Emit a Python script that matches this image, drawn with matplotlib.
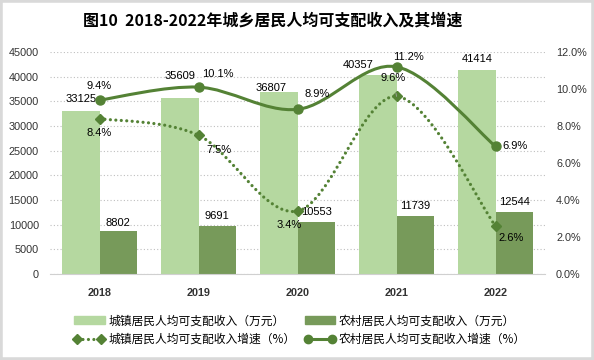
import matplotlib
matplotlib.use("Agg")
import matplotlib.pyplot as plt
import numpy as np
from matplotlib.path import Path
from matplotlib.patches import PathPatch, Patch, Rectangle
from matplotlib.lines import Line2D

plt.rcParams['font.family'] = ['Liberation Sans', 'Noto Sans CJK SC']

years = ['2018', '2019', '2020', '2021', '2022']
urban_income = [33125, 35609, 36807, 40357, 41414]
rural_income = [8802, 9691, 10553, 11739, 12544]
urban_growth = [8.4, 7.5, 3.4, 9.6, 2.6]
rural_growth = [9.4, 10.1, 8.9, 11.2, 6.9]

c_light = '#B5D8A0'
c_dark = '#779A5A'
c_line = '#548235'
cjk = ['Noto Sans CJK SC', 'DejaVu Sans']

fig = plt.figure(figsize=(5.94, 3.6), dpi=100)
fig.patches.append(Rectangle((0, 0), 1, 1, transform=fig.transFigure, fill=False,
                             edgecolor='#D9D9D9', linewidth=4, zorder=10))
ax = fig.add_axes([50/594, 86/360, 495/594, 222/360])
ax2 = ax.twinx()

x = np.arange(len(years))
w = 0.38
ax.bar(x - w/2, urban_income, w, color=c_light, zorder=2)
ax.bar(x + w/2, rural_income, w, color=c_dark, zorder=2)

ax.set_xlim(-0.5, 4.5)
ax.set_ylim(0, 45000)
ax.set_yticks(np.arange(0, 45001, 5000))
ax.yaxis.grid(True, linestyle=(0, (1, 2)), color='#BFBFBF', linewidth=0.8)
ax.set_axisbelow(True)
for s in ['top', 'right', 'left']:
    ax.spines[s].set_visible(False)
ax.spines['bottom'].set_color('#D0D0D0')
ax.tick_params(axis='both', length=0, labelsize=7.8, colors='#333333')
ax.set_xticks(x)
ax.set_xticklabels(years, fontweight='bold')
ax.tick_params(axis='x', pad=10)
ax.tick_params(axis='y', pad=8)

ax2.set_ylim(0, 12)
ax2.set_yticks(np.arange(0, 12.1, 2))
ax2.set_yticklabels([f'{v:.1f}%' for v in np.arange(0, 12.1, 2)])
ax2.tick_params(axis='y', length=0, labelsize=7.8, colors='#333333', pad=8)
for s in ['top', 'right', 'left', 'bottom']:
    ax2.spines[s].set_visible(False)


def smooth_path(xs, ys):
    pts = np.column_stack([xs, ys]).astype(float)
    n = len(pts)
    verts = [pts[0]]
    codes = [Path.MOVETO]
    for i in range(n - 1):
        p0 = pts[i - 1] if i > 0 else pts[i]
        p1 = pts[i]
        p2 = pts[i + 1]
        p3 = pts[i + 2] if i + 2 < n else pts[i + 1]
        c1 = p1 + (p2 - p0) / 6
        c2 = p2 - (p3 - p1) / 6
        verts += [c1, c2, p2]
        codes += [Path.CURVE4] * 3
    return Path(verts, codes)


dotted = (0, (0.01, 1.7))
dot_patch = PathPatch(smooth_path(x, urban_growth), fill=False, edgecolor=c_line,
                      linewidth=2.3, linestyle=dotted, zorder=3)
dot_patch.set_capstyle('round')
ax2.add_patch(dot_patch)
ax2.add_patch(PathPatch(smooth_path(x, rural_growth), fill=False, edgecolor=c_line,
                        linewidth=2.2, zorder=3))
ax2.plot(x, urban_growth, linestyle='none', marker='D', markersize=5.5, color=c_line, zorder=4)
ax2.plot(x, rural_growth, linestyle='none', marker='o', markersize=6.5, color=c_line, zorder=4)

fs = 8
urban_off = [(0, 12), (0, 22), (-8, 4), (-20, 10), (0, 11)]
rural_off = [(0, 8), (0, 10), (0, 10), (0, 10), (0, 10)]
for i in range(5):
    ax.annotate(str(urban_income[i]), (x[i] - w/2, urban_income[i]), xytext=urban_off[i],
                textcoords='offset pixels', ha='center', va='center', fontsize=fs, color='black')
    ax.annotate(str(rural_income[i]), (x[i] + w/2, rural_income[i]), xytext=rural_off[i],
                textcoords='offset pixels', ha='center', va='center', fontsize=fs, color='black')

rg_off = [(0, 14), (19, 13), (20, 15), (12, 10), (19, 0)]
ug_off = [(0, -14), (20, -15), (-8, -14), (-3, 18), (16, -12)]
for i in range(5):
    ax2.annotate(f'{rural_growth[i]:.1f}%', (x[i], rural_growth[i]), xytext=rg_off[i],
                 textcoords='offset pixels', ha='center', va='center', fontsize=fs,
                 color='black', zorder=6)
    kw = {}
    if i == 3:
        kw = dict(arrowprops=dict(arrowstyle='-', color='#A6A6A6', lw=0.6,
                                  shrinkA=5, shrinkB=3))
    ax2.annotate(f'{urban_growth[i]:.1f}%', (x[i], urban_growth[i]), xytext=ug_off[i],
                 textcoords='offset pixels', ha='center', va='center', fontsize=fs,
                 color='black', zorder=6, **kw)

fig.text(273/594, 1 - 21/360, '图10  2018-2022年城乡居民人均可支配收入及其增速',
         ha='center', va='center', fontsize=11.5, fontweight='bold', family=cjk)

handles = [Patch(color=c_light), Patch(color=c_dark),
           Line2D([], [], color=c_line, linestyle=dotted, linewidth=2.3, marker='D',
                  markersize=5, dash_capstyle='round'),
           Line2D([], [], color=c_line, linewidth=2.2, marker='o', markersize=6)]
labels = ['城镇居民人均可支配收入（万元）', '农村居民人均可支配收入（万元）',
          '城镇居民人均可支配收入增速（%）', '农村居民人均可支配收入增速（%）']
order = [0, 2, 1, 3]
fig.legend([handles[i] for i in order], [labels[i] for i in order],
           loc='center', bbox_to_anchor=(300/594, 1 - 330/360), ncol=2, frameon=False,
           prop={'family': cjk, 'size': 8.5}, handlelength=2.6, handleheight=0.6,
           columnspacing=0.8, labelspacing=0.45, handletextpad=0.3, numpoints=2)

fig.savefig('out.png', dpi=100, facecolor='white')
